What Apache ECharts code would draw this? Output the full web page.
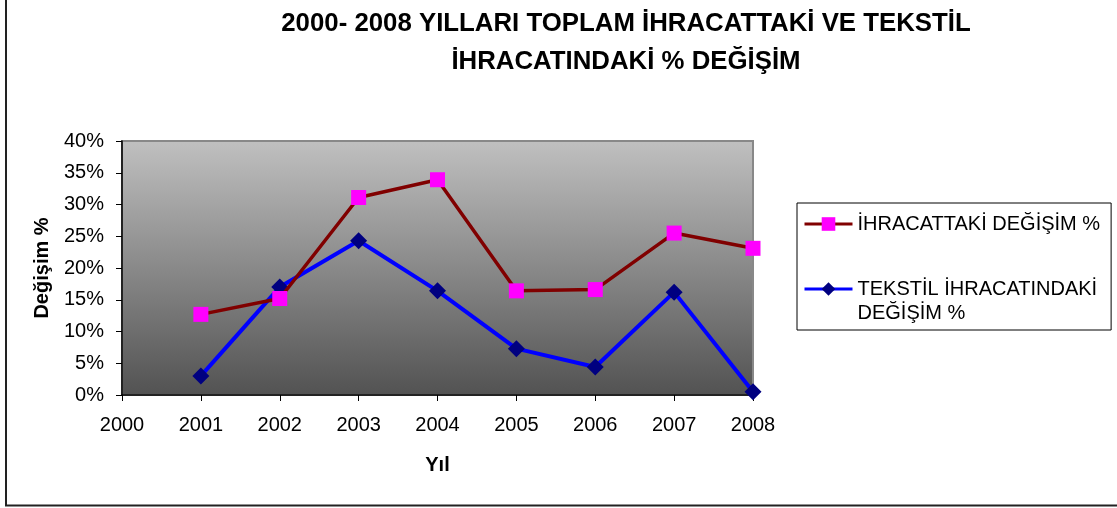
<!DOCTYPE html>
<html>
<head>
<meta charset="utf-8">
<script src="https://cdn.jsdelivr.net/npm/echarts@6/dist/echarts.min.js"></script>
<style>
html,body{margin:0;padding:0;background:#fff;}
#chart{width:1117px;height:508px;}
</style>
</head>
<body>
<div id="chart"></div>
<script>
const titleLines = ['2000- 2008 YILLARI TOPLAM İHRACATTAKİ VE TEKSTİL', 'İHRACATINDAKİ % DEĞİŞİM'];
const years = [2001, 2002, 2003, 2004, 2005, 2006, 2007, 2008];
const ihracatDegisim = [12.7, 15.2, 31.1, 33.9, 16.4, 16.6, 25.5, 23.1];
const tekstilDegisim = [3.0, 17.0, 24.3, 16.4, 7.3, 4.4, 16.2, 0.5];
const seriesNames = ['İHRACATTAKİ DEĞİŞİM %', 'TEKSTİL İHRACATINDAKİ DEĞİŞİM %'];
const legendLabels = ['İHRACATTAKİ DEĞİŞİM %', '\nTEKSTİL İHRACATINDAKİ\nDEĞİŞİM %'];
const yAxisName = 'Değişim %';
const xAxisName = 'Yıl';

const FONT = '"Liberation Sans", Arial, sans-serif';
const chart = echarts.init(document.getElementById('chart'), null, {renderer: 'canvas'});

chart.setOption({
  animation: false,
  backgroundColor: '#ffffff',
  title: {
    text: titleLines.join('\n'),
    left: 626,
    textAlign: 'center',
    top: 5,
    padding: 0,
    textStyle: {fontFamily: FONT, fontWeight: 'bold', fontSize: 25.8, lineHeight: 38, color: '#000'}
  },
  legend: {
    orient: 'vertical',
    left: 797,
    top: 203,
    padding: [9, 11, 5, 6],
    itemGap: 17,
    itemWidth: 48,
    itemHeight: 17,
    borderColor: '#000',
    borderWidth: 1,
    lineStyle: {width: 3},
    textStyle: {fontFamily: FONT, fontSize: 20, lineHeight: 24, color: '#000'},
    formatter: function (n) { return legendLabels[seriesNames.indexOf(n)]; },
    data: [seriesNames[0], seriesNames[1]]
  },
  grid: {
    left: 122, right: 364, top: 141, bottom: 113,
    show: true,
    borderColor: '#888',
    borderWidth: 2,
    backgroundColor: {
      type: 'linear', x: 0, y: 0, x2: 0, y2: 1,
      colorStops: [{offset: 0, color: '#c0c0c0'}, {offset: 1, color: '#525252'}]
    }
  },
  xAxis: {
    type: 'value',
    min: 2000, max: 2008, interval: 1,
    name: xAxisName,
    nameLocation: 'middle',
    nameGap: 60,
    nameTextStyle: {fontFamily: FONT, fontWeight: 'bold', fontSize: 20, color: '#000'},
    axisLine: {show: true, lineStyle: {color: '#000', width: 1.5}},
    axisTick: {show: true, length: 6, lineStyle: {color: '#000'}},
    splitLine: {show: false},
    axisLabel: {fontFamily: FONT, fontSize: 20, color: '#000', margin: 20,
      formatter: function (v) { return Number.isInteger(v) ? String(v) : ''; }}
  },
  yAxis: {
    type: 'value',
    min: 0, max: 40, interval: 5,
    name: yAxisName,
    nameLocation: 'middle',
    nameGap: 70,
    nameRotate: 90,
    nameTextStyle: {fontFamily: FONT, fontWeight: 'bold', fontSize: 20, color: '#000'},
    axisLine: {show: true, lineStyle: {color: '#000', width: 1.5}},
    axisTick: {show: true, length: 6, lineStyle: {color: '#000'}},
    splitLine: {show: false},
    axisLabel: {fontFamily: FONT, fontSize: 20, color: '#000', margin: 18, formatter: '{value}%'}
  },
  series: [
    {
      name: seriesNames[1],
      type: 'line',
      data: years.map((y, i) => [y, tekstilDegisim[i]]),
      symbol: 'diamond',
      symbolSize: 17,
      lineStyle: {color: '#0000ff', width: 4},
      itemStyle: {color: '#000080'},
      emphasis: {disabled: true},
      z: 2
    },
    {
      name: seriesNames[0],
      type: 'line',
      data: years.map((y, i) => [y, ihracatDegisim[i]]),
      symbol: 'rect',
      symbolSize: 15,
      lineStyle: {color: '#800000', width: 3.5},
      itemStyle: {color: '#ff00ff'},
      emphasis: {disabled: true},
      z: 3
    }
  ],
  graphic: [
    {type: 'polyline', shape: {points: [[6, 0], [6, 505.5], [1117, 505.5]]},
     style: {stroke: '#222', lineWidth: 2, fill: null}, silent: true}
  ]
});
</script>
</body>
</html>
